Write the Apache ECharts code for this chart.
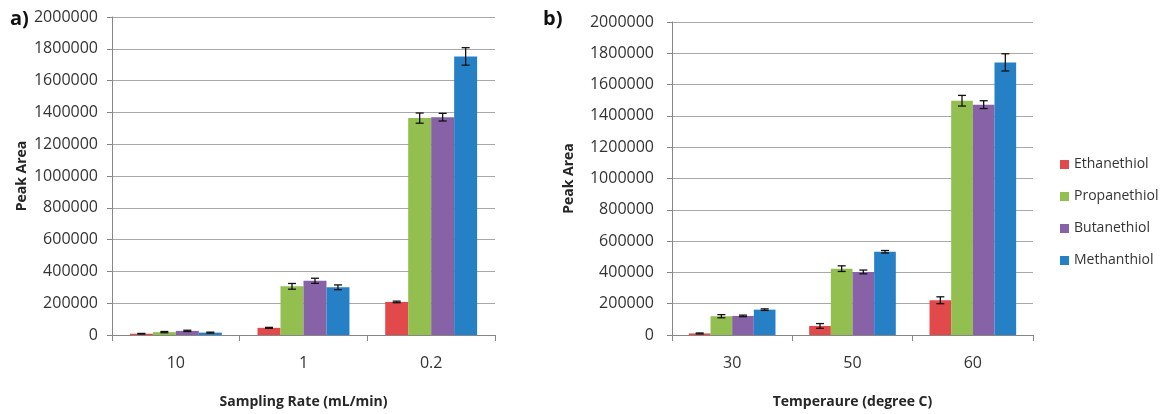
<!DOCTYPE html>
<html>
<head>
<meta charset="utf-8">
<script src="https://cdn.jsdelivr.net/npm/echarts@6/dist/echarts.min.js"></script>
<style>
  html, body { margin: 0; padding: 0; background: #fff; }
  #chart { width: 1168px; height: 414px; }
</style>
</head>
<body>
<div id="chart"></div>
<script>
// data
const categoriesA = ['10', '1', '0.2'];
const categoriesB = ['30', '50', '60'];
const seriesNames = ['Ethanethiol', 'Propanethiol', 'Butanethiol', 'Methanthiol'];
const colors = ['#e2494b', '#92bf50', '#8762a7', '#2680c6'];

// a) sampling rate
const ethA = [8000, 45000, 208000];
const propA = [18000, 306000, 1364000];
const butA = [26000, 341000, 1370000];
const methA = [15000, 300000, 1752000];
const ethAErr = [2000, 3000, 5000];
const propAErr = [4000, 18000, 32000];
const butAErr = [4000, 16000, 24000];
const methAErr = [3000, 15000, 55000];

// b) temperature
const ethB = [10000, 58000, 222000];
const propB = [120000, 424000, 1497000];
const butB = [122000, 403000, 1472000];
const methB = [162000, 532000, 1742000];
const ethBErr = [3000, 15000, 22000];
const propBErr = [10000, 18000, 34000];
const butBErr = [5000, 12000, 25000];
const methBErr = [5000, 8000, 55000];

const yTicks = [0, 2000000, 200000]; // min, max, interval

const catGap = 0.28;
const font = 'Open Sans';

function barSeries(name, idx, data, g) {
  return {
    name: name,
    type: 'bar',
    xAxisIndex: g,
    yAxisIndex: g,
    data: data,
    barGap: '0%',
    barCategoryGap: (catGap * 100) + '%',
    itemStyle: { color: colors[idx] }
  };
}

function errSeries(idx, vals, errs, g) {
  return {
    type: 'custom',
    xAxisIndex: g,
    yAxisIndex: g,
    silent: true,
    z: 10,
    data: vals.map((v, i) => [i, v - errs[i], v + errs[i]]),
    encode: { x: 0, y: [1, 2] },
    renderItem: function (params, api) {
      const x = api.value(0);
      const lo = api.coord([x, api.value(1)]);
      const hi = api.coord([x, api.value(2)]);
      const band = api.size([1, 0])[0];
      const bw = band * (1 - catGap) / 4;
      const cx = lo[0] + (idx - 1.5) * bw;
      const cap = 4;
      const st = { stroke: '#111', lineWidth: 1.3 };
      return {
        type: 'group',
        children: [
          { type: 'line', shape: { x1: cx, y1: lo[1], x2: cx, y2: hi[1] }, style: st },
          { type: 'line', shape: { x1: cx - cap, y1: lo[1], x2: cx + cap, y2: lo[1] }, style: st },
          { type: 'line', shape: { x1: cx - cap, y1: hi[1], x2: cx + cap, y2: hi[1] }, style: st }
        ]
      };
    }
  };
}

function xAxisOf(cats, g, name) {
  return {
    type: 'category',
    gridIndex: g,
    data: cats,
    name: name,
    nameLocation: 'middle',
    nameGap: 60,
    nameTextStyle: { fontFamily: font, fontSize: 14, fontWeight: 'bold', color: '#262626' },
    axisLine: { lineStyle: { color: '#868686' } },
    axisTick: { show: true, length: 6, lineStyle: { color: '#868686' } },
    axisLabel: { margin: 20, fontFamily: font, fontSize: 16, color: '#333' },
    splitLine: { show: false }
  };
}

function yAxisOf(g, nameGap) {
  return {
    type: 'value',
    gridIndex: g,
    min: yTicks[0],
    max: yTicks[1],
    interval: yTicks[2],
    name: 'Peak Area',
    nameLocation: 'middle',
    nameGap: nameGap,
    nameTextStyle: { fontFamily: font, fontSize: 14, fontWeight: 'bold', color: '#262626' },
    axisLine: { show: true, lineStyle: { color: '#868686' } },
    axisTick: { show: true, length: 5, lineStyle: { color: '#868686' } },
    axisLabel: {
      margin: g === 0 ? 14 : 18,
      fontFamily: font,
      fontSize: 16,
      color: '#333',
      formatter: v => String(v)
    },
    splitLine: { lineStyle: { color: '#a8a8a8', width: 1 } }
  };
}

const chart = echarts.init(document.getElementById('chart'));

const valsA = [ethA, propA, butA, methA];
const errsA = [ethAErr, propAErr, butAErr, methAErr];
const valsB = [ethB, propB, butB, methB];
const errsB = [ethBErr, propBErr, butBErr, methBErr];

const series = [];
seriesNames.forEach((n, i) => series.push(barSeries(n, i, valsA[i], 0)));
seriesNames.forEach((n, i) => series.push(barSeries(n, i, valsB[i], 1)));
seriesNames.forEach((n, i) => series.push(errSeries(i, valsA[i], errsA[i], 0)));
seriesNames.forEach((n, i) => series.push(errSeries(i, valsB[i], errsB[i], 1)));

chart.setOption({
  backgroundColor: '#fff',
  animation: false,
  grid: [
    { left: 112, top: 17, width: 383, height: 324 },
    { left: 672, top: 22, width: 361, height: 317 }
  ],
  legend: {
    data: seriesNames,
    orient: 'vertical',
    left: 1055,
    top: 151,
    icon: 'rect',
    itemWidth: 9,
    itemHeight: 9,
    itemGap: 15,
    textStyle: { fontFamily: font, fontSize: 14, color: '#333', lineHeight: 17 }
  },
  xAxis: [
    xAxisOf(categoriesA, 0, 'Sampling Rate (mL/min)'),
    xAxisOf(categoriesB, 1, 'Temperaure (degree C)')
  ],
  yAxis: [
    yAxisOf(0, 83),
    yAxisOf(1, 96)
  ],
  graphic: [
    { type: 'text', left: 10, top: 9, style: { text: 'a)', fontFamily: font, fontSize: 20, fontWeight: 'bold', fill: '#111' } },
    { type: 'text', left: 543, top: 9, style: { text: 'b)', fontFamily: font, fontSize: 20, fontWeight: 'bold', fill: '#111' } }
  ],
  series: series
});
</script>
</body>
</html>
